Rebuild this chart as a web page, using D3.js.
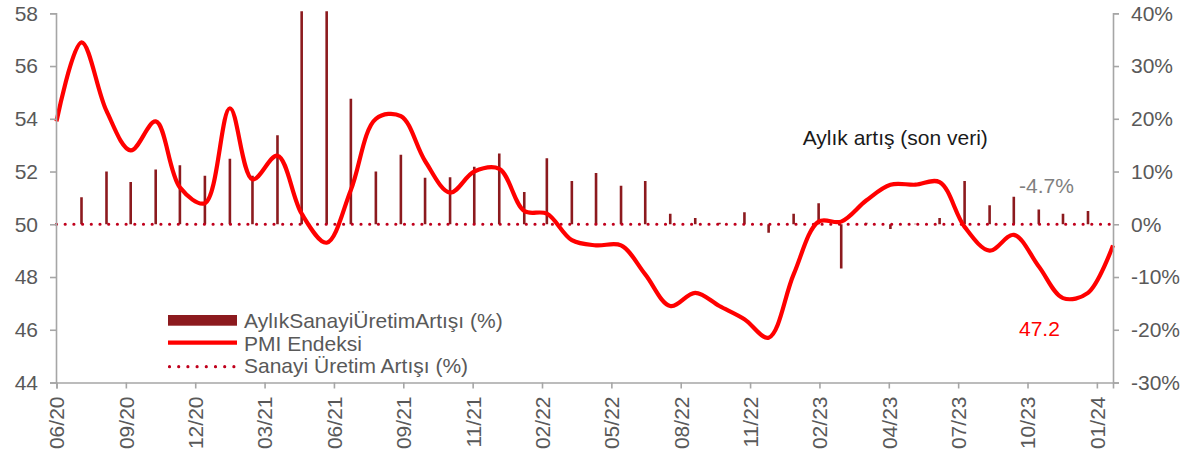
<!DOCTYPE html>
<html>
<head>
<meta charset="utf-8">
<script src="https://cdn.jsdelivr.net/npm/d3@7"></script>
<style>
  body { margin: 0; background: #fff; }
  text { font-family: "Liberation Sans", Arial, sans-serif; }
</style>
</head>
<body>
<div id="vis"></div>
<script>
// monthly data, Jun 2020 - Jan 2024 (end of month)
var pmi = [53.9, 56.9, 54.3, 52.8, 53.9, 51.4, 50.8,
  54.4, 51.7, 52.6, 50.4, 49.3, 51.3, 54.0, 54.1, 52.4, 51.2, 52.0, 52.1,
  50.5, 50.4, 49.4, 49.2, 49.2, 48.1, 46.9, 47.4, 46.9, 46.4, 45.7, 48.1,
  50.1, 50.1, 50.9, 51.5, 51.5, 51.6, 49.9, 49.0, 49.6, 48.4, 47.2, 47.4,
  49.2]

// sanayi uretim artisi (%), last month not published
var ipGrowth = [0, 5.1, 10.0, 8.0, 10.4, 11.2, 9.2,
  12.4, 9.2, 16.9, 60.9, 40.6, 23.8, 10.0, 13.2, 8.8, 8.9, 10.9, 13.4,
  6.1, 12.5, 8.2, 9.7, 7.3, 8.2, 2.0, 1.2, 0.3, 2.3, -1.6, 2.0,
  4.0, -8.4, 0.3, -0.9, 0.1, 1.2, 8.2, 3.6, 5.2, 2.8, 2.0, 2.5,
  null]

var zeroLine = pmi.map(function() { return 0 })

var tickLabels = ["06/20", "09/20", "12/20", "03/21", "06/21", "09/21", "11/21", "02/22",
  "05/22", "08/22", "11/22", "02/23", "04/23", "07/23", "10/23", "01/24"]
var leftTicks = [44, 46, 48, 50, 52, 54, 56, 58]
var rightTicks = [-30, -20, -10, 0, 10, 20, 30, 40]

var legendLabels = ["AylıkSanayiÜretimArtışı (%)", "PMI Endeksi", "Sanayi Üretim Artışı (%)"]

var width = 1182, height = 459
var margin = {top: 13.3, left: 56, right: 69, bottom: 76.5}

var svg = d3.select("#vis")
    .append("svg")
    .attr("width", width)
    .attr("height", height)

var months = d3.timeMonth.range(new Date(2020, 5, 1), new Date(2024, 1, 1))
var dates = months.map(function(m) { return d3.timeDay.offset(d3.timeMonth.offset(m, 1), -1) })
var start = dates[0], end = dates[dates.length - 1]

var x = d3.scaleTime()
    .domain([start, end])
    .range([margin.left + 0.5, width - margin.right])

var yL = d3.scaleLinear()
    .domain([44, 58])
    .range([height - margin.bottom, margin.top])

var yR = d3.scaleLinear()
    .domain([-30, 40])
    .range([height - margin.bottom, margin.top])

// excel date axis: a label every 86 days
var tickDates = tickLabels.map(function(d, i) { return d3.timeDay.offset(start, 86 * i) })

var axisColor = "#a6a6a6", textColor = "#595959"

svg.append("clipPath").attr("id", "plot")
  .append("rect")
    .attr("x", margin.left).attr("y", margin.top - 2)
    .attr("width", width - margin.left - margin.right)
    .attr("height", height - margin.top - margin.bottom + 2)

// bars
svg.append("g")
    .attr("clip-path", "url(#plot)")
  .selectAll("line")
  .data(ipGrowth.map(function(v, i) { return {date: dates[i], v: v} }).filter(function(d) { return d.v !== null && d.v !== 0 }))
  .join("line")
    .attr("x1", function(d) { return x(d.date) })
    .attr("x2", function(d) { return x(d.date) })
    .attr("y1", yR(0))
    .attr("y2", function(d) { return yR(d.v) })
    .attr("stroke", "#8c1a1e")
    .attr("stroke-width", 2.6)

// dotted zero series
svg.append("path")
    .datum(zeroLine)
    .attr("fill", "none")
    .attr("stroke", "#c0001c")
    .attr("stroke-width", 3.2)
    .attr("stroke-linecap", "round")
    .attr("stroke-dasharray", "0,8.7")
    .attr("d", d3.line()
      .x(function(d, i) { return x(dates[i]) })
      .y(function(d) { return yR(d) }))

// pmi line
svg.append("path")
    .datum(pmi)
    .attr("fill", "none")
    .attr("stroke", "#ff0000")
    .attr("stroke-width", 4.2)
    .attr("stroke-linejoin", "round")
    .attr("d", d3.line()
      .curve(d3.curveCatmullRom.alpha(0.5))
      .x(function(d, i) { return x(dates[i]) })
      .y(function(d) { return yL(d) }))

// axes
var gL = svg.append("g")
    .attr("transform", "translate(" + margin.left + ",0)")
    .call(d3.axisLeft(yL).tickValues(leftTicks).tickSize(6).tickPadding(12))
var gR = svg.append("g")
    .attr("transform", "translate(" + (width - margin.right) + ",0)")
    .call(d3.axisRight(yR).tickValues(rightTicks).tickSize(6).tickPadding(12)
      .tickFormat(function(d) { return d + "%" }))
var gX = svg.append("g")
    .attr("transform", "translate(0," + (height - margin.bottom) + ")")
    .call(d3.axisBottom(x).tickValues(tickDates).tickSize(6)
      .tickFormat(function(d, i) { return tickLabels[i] }))

gX.selectAll("text")
    .attr("transform", "rotate(-90)")
    .attr("text-anchor", "end")
    .attr("x", -14)
    .attr("y", 0)
    .attr("dy", "0.35em")

;[gL, gR, gX].forEach(function(g) {
  g.select(".domain").attr("stroke", axisColor).attr("stroke-width", 1.6)
  g.selectAll(".tick line").attr("stroke", axisColor).attr("stroke-width", 1.6)
  g.selectAll("text").attr("fill", textColor).style("font-size", "21px")
})

// annotations
svg.append("text")
    .attr("x", 802.7).attr("y", 145)
    .attr("fill", "#1a1a1a")
    .style("font-size", "21px")
    .text("Aylık artış (son veri)")
svg.append("text")
    .attr("x", 1019).attr("y", 193.3)
    .attr("fill", "#7f7f7f")
    .style("font-size", "21px")
    .text("-4.7%")
svg.append("text")
    .attr("x", 1019).attr("y", 336)
    .attr("fill", "#ff0000")
    .style("font-size", "21px")
    .text("47.2")

// legend
var legend = svg.append("g").attr("transform", "translate(168,0)")
legend.append("rect")
    .attr("x", 0).attr("y", 315)
    .attr("width", 69).attr("height", 10.7)
    .attr("fill", "#8c1a1e")
legend.append("line")
    .attr("x1", 0).attr("x2", 69)
    .attr("y1", 342.7).attr("y2", 342.7)
    .attr("stroke", "#ff0000").attr("stroke-width", 4.2)
legend.append("line")
    .attr("x1", 1.5).attr("x2", 66)
    .attr("y1", 366.7).attr("y2", 366.7)
    .attr("stroke", "#c0001c").attr("stroke-width", 3.2)
    .attr("stroke-linecap", "round")
    .attr("stroke-dasharray", "0,9.2")
legend.selectAll("text.lab")
  .data(legendLabels)
  .join("text")
    .attr("class", "lab")
    .attr("x", 76)
    .attr("y", function(d, i) { return [328.3, 351.3, 373.3][i] })
    .attr("fill", textColor)
    .style("font-size", "21px")
    .text(function(d) { return d })
</script>
</body>
</html>
